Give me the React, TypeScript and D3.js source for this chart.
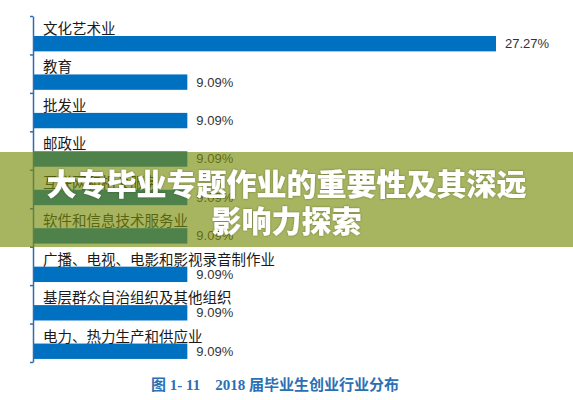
import * as d3 from "d3";
import { useEffect, useRef } from "react";

const categories = [
  "文化艺术业",
  "教育",
  "批发业",
  "邮政业",
  "互联网和相关服务",
  "软件和信息技术服务业",
  "广播、电视、电影和影视录音制作业",
  "基层群众自治组织及其他组织",
  "电力、热力生产和供应业",
];
const shares = [27.27, 9.09, 9.09, 9.09, 9.09, 9.09, 9.09, 9.09, 9.09];
const valueLabels = ["27.27%", "9.09%", "9.09%", "9.09%", "9.09%", "9.09%", "9.09%", "9.09%", "9.09%"];
const caption = "图 1- 11    2018 届毕业生创业行业分布";
const bannerLines = ["大专毕业专题作业的重要性及其深远", "影响力探索"];

const App = () => {
  const svgRef = useRef<SVGSVGElement | null>(null);
  const width = 573;
  const height = 400;

  useEffect(() => {
    if (!svgRef.current) return;
    const svg = d3.select(svgRef.current);
    svg.selectAll("*").remove();

    svg.append("rect").attr("width", width).attr("height", height).attr("fill", "#ffffff");

    const axisX = 33;
    const top = 16;
    const bottom = 362;

    // scales
    const yScale = d3.scaleBand<string>().domain(categories).range([top, bottom]);
    const xScale = d3.scaleLinear().domain([0, 27.27]).range([axisX, 496]);
    const tickScale = d3.scaleLinear().domain([0, categories.length]).range([top, bottom]);
    const bw = yScale.bandwidth();

    // bars
    svg
      .selectAll(".bar")
      .data(categories)
      .join("rect")
      .attr("class", "bar")
      .attr("x", xScale(0))
      .attr("y", (d) => yScale(d)! + bw * 0.52)
      .attr("width", (d, i) => xScale(shares[i]) - xScale(0))
      .attr("height", bw * 0.4)
      .attr("fill", "#0070c0");

    // category labels (above each bar)
    svg
      .selectAll(".cat")
      .data(categories)
      .join("text")
      .attr("class", "cat")
      .attr("x", 43)
      .attr("y", (d) => yScale(d)! + bw * 0.52 - 2)
      .attr("font-family", "'Noto Sans CJK SC', sans-serif")
      .attr("font-size", 14.5)
      .attr("fill", "#1a1a1a")
      .text((d) => d);

    // value labels
    svg
      .selectAll(".val")
      .data(categories)
      .join("text")
      .attr("class", "val")
      .attr("x", (d, i) => xScale(shares[i]) + 9)
      .attr("y", (d) => yScale(d)! + bw * 0.72 + 1)
      .attr("dominant-baseline", "middle")
      .attr("font-family", "'Liberation Sans', Arial, sans-serif")
      .attr("font-size", 13)
      .attr("fill", "#333333")
      .text((d, i) => valueLabels[i]);

    // axis
    const axis = svg
      .append("g")
      .attr("transform", `translate(${axisX}, 0)`)
      .call(
        d3
          .axisLeft(tickScale)
          .tickValues(d3.range(categories.length + 1))
          .tickSize(3)
          .tickSizeOuter(0)
          .tickFormat(() => "")
      );
    axis.selectAll("path,line").attr("stroke", "#2f6db3").attr("stroke-width", 1.5);

    // caption
    svg
      .append("text")
      .attr("x", 275)
      .attr("y", 387)
      .attr("text-anchor", "middle")
      .attr("dominant-baseline", "middle")
      .attr("font-family", "'Liberation Serif', 'Noto Sans CJK SC', serif")
      .attr("font-weight", "bold")
      .attr("font-size", 15)
      .attr("fill", "#2a70b3")
      .attr("xml:space", "preserve")
      .style("white-space", "pre")
      .text(caption);

    // overlay banner
    svg
      .append("rect")
      .attr("x", 0)
      .attr("y", 152)
      .attr("width", width)
      .attr("height", 95)
      .attr("fill", "rgb(120,140,10)")
      .attr("fill-opacity", 0.65);

    const defs = svg.append("defs");
    const f = defs.append("filter").attr("id", "shadow").attr("x", "-10%").attr("y", "-20%").attr("width", "120%").attr("height", "140%");
    f.append("feDropShadow").attr("dx", 0).attr("dy", 0).attr("stdDeviation", 1).attr("flood-color", "#000").attr("flood-opacity", 0.35);

    svg
      .selectAll(".banner")
      .data(bannerLines)
      .join("text")
      .attr("class", "banner")
      .attr("x", width / 2)
      .attr("y", (d, i) => 182 + i * 37)
      .attr("text-anchor", "middle")
      .attr("dominant-baseline", "central")
      .attr("font-family", "'Noto Sans CJK SC', sans-serif")
      .attr("font-weight", 900)
      .attr("font-size", 30)
      .attr("fill", "#ffffff")
      .attr("filter", "url(#shadow)")
      .text((d) => d);
  }, []);

  return (
    <svg
      ref={svgRef}
      width={width}
      height={height}
      style={{ position: "fixed", top: 0, left: 0, display: "block" }}
    ></svg>
  );
};

export default App;
